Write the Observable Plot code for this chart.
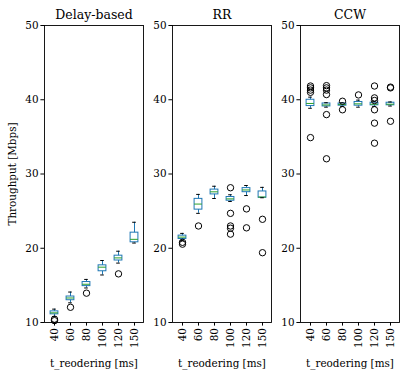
<!DOCTYPE html>
<html><head><meta charset="utf-8">
<script src="https://cdn.jsdelivr.net/npm/d3@7"></script>
<script src="https://cdn.jsdelivr.net/npm/@observablehq/plot@0.6"></script>
<style>
body{margin:0;background:#fff}
#chart{position:relative;width:400px;height:370px;overflow:hidden}
#chart svg{position:absolute;top:0}
</style></head><body><div id="chart"></div>
<script>
const categories = ["40", "60", "80", "100", "120", "150"];
const yTicks = [10, 20, 30, 40, 50];
const titles = ["Delay-based", "RR", "CCW"];
const xLabel = "t_reodering [ms]";
const yLabel = "Throughput [Mbps]";

// Delay-based
const delayQ1  = [11.1, 13.0, 14.9, 16.9, 18.35, 20.8];
const delayMed = [11.3, 13.3, 15.15, 17.45, 18.7, 21.2];
const delayQ3  = [11.5, 13.5, 15.45, 17.7, 19.0, 22.1];
const delayLo  = [10.8, 12.65, 14.65, 16.4, 18.0, 20.7];
const delayHi  = [11.8, 14.1, 15.8, 18.35, 19.6, 23.5];
const delayFliers = [[10.45, 10.25], [12.05], [13.95], [], [16.55], []];

// RR
const rrQ1  = [21.25, 25.2, 27.25, 26.4, 27.55, 26.8];
const rrMed = [21.5, 25.95, 27.6, 26.65, 27.85, 26.9];
const rrQ3  = [21.7, 26.65, 27.9, 26.9, 28.1, 27.65];
const rrLo  = [21.05, 24.7, 26.7, 26.3, 27.1, 26.8];
const rrHi  = [22.0, 27.25, 28.35, 27.2, 28.45, 28.2];
const rrFliers = [[20.8, 20.55], [23.0], [], [28.15, 24.7, 23.0, 22.7, 21.9], [25.3, 22.75], [23.9, 19.4]];

// CCW
const ccwQ1  = [39.15, 39.1, 39.2, 39.2, 39.25, 39.25];
const ccwMed = [39.5, 39.3, 39.35, 39.45, 39.4, 39.4];
const ccwQ3  = [40.0, 39.5, 39.5, 39.7, 39.6, 39.6];
const ccwLo  = [38.85, 39.0, 39.1, 39.0, 39.1, 39.15];
const ccwHi  = [40.35, 39.6, 39.6, 39.95, 39.75, 39.7];
const ccwFliers = [[41.85, 41.6, 41.3, 41.0, 34.9], [41.9, 41.6, 41.3, 40.7, 38.0, 32.05], [39.8, 38.65], [40.65], [41.85, 40.25, 39.9, 38.65, 36.85, 34.15], [41.7, 41.6, 37.1]];

const blue = "#1f77b4", green = "#2ca02c";

function rowsOf(q1, med, q3, lo, hi) {
  return categories.map((c, i) => ({cat: c, q1: q1[i], med: med[i], q3: q3[i], lo: lo[i], hi: hi[i]}));
}
function flierRows(fl) {
  return fl.flatMap((vals, i) => vals.map(v => ({cat: categories[i], v})));
}

const panels = [
  {title: titles[0], rows: rowsOf(delayQ1, delayMed, delayQ3, delayLo, delayHi), fliers: flierRows(delayFliers), left: 0, marginLeft: 44, showY: true},
  {title: titles[1], rows: rowsOf(rrQ1, rrMed, rrQ3, rrLo, rrHi), fliers: flierRows(rrFliers), left: 142, marginLeft: 30, showY: false},
  {title: titles[2], rows: rowsOf(ccwQ1, ccwMed, ccwQ3, ccwLo, ccwHi), fliers: flierRows(ccwFliers), left: 270, marginLeft: 30, showY: false}
];

const container = document.getElementById("chart");
for (const p of panels) {
  const chart = Plot.plot({
    width: p.marginLeft + 99 + 1,
    height: 370,
    marginLeft: p.marginLeft,
    marginRight: 1,
    marginTop: 25,
    marginBottom: 48,
    style: {fontFamily: "'DejaVu Serif', serif", fontSize: "10.4px", background: "transparent", overflow: "visible", color: "black"},
    x: {type: "band", domain: categories, padding: 0},
    y: {domain: [10, 50]},
    marks: [
      Plot.axisY({ticks: yTicks, tickSize: 3.6, tickPadding: 2.4, label: p.showY ? yLabel : null, labelAnchor: "center", labelArrow: "none", labelOffset: 36}),
      Plot.axisX({tickRotate: -90, tickSize: 3.6, tickPadding: 2, label: null}),
      Plot.ruleX(p.rows, {x: "cat", y1: "lo", y2: "hi", stroke: blue, strokeWidth: 1}),
      Plot.barY(p.rows, {x: "cat", y1: "q1", y2: "q3", fill: "white", stroke: blue, strokeWidth: 1, insetLeft: 4.1, insetRight: 4.1}),
      Plot.tickY(p.rows, {x: "cat", y: "med", stroke: green, strokeWidth: 1, insetLeft: 4.1, insetRight: 4.1}),
      Plot.tickY(p.rows, {x: "cat", y: "lo", stroke: "black", strokeWidth: 1, insetLeft: 6.2, insetRight: 6.2}),
      Plot.tickY(p.rows, {x: "cat", y: "hi", stroke: "black", strokeWidth: 1, insetLeft: 6.2, insetRight: 6.2}),
      Plot.dot(p.fliers, {x: "cat", y: "v", r: 3.2, stroke: "black", fill: "none", strokeWidth: 1}),
      Plot.frame({stroke: "black", strokeWidth: 0.9}),
      Plot.text([p.title], {text: d => d, frameAnchor: "top", lineAnchor: "bottom", dy: -7, fontSize: 12.5}),
      Plot.text([xLabel], {text: d => d, frameAnchor: "bottom", lineAnchor: "middle", dy: 41, fontSize: 10.4})
    ]
  });
  chart.style.left = p.left + "px";
  container.appendChild(chart);
}
</script>
</body></html>
